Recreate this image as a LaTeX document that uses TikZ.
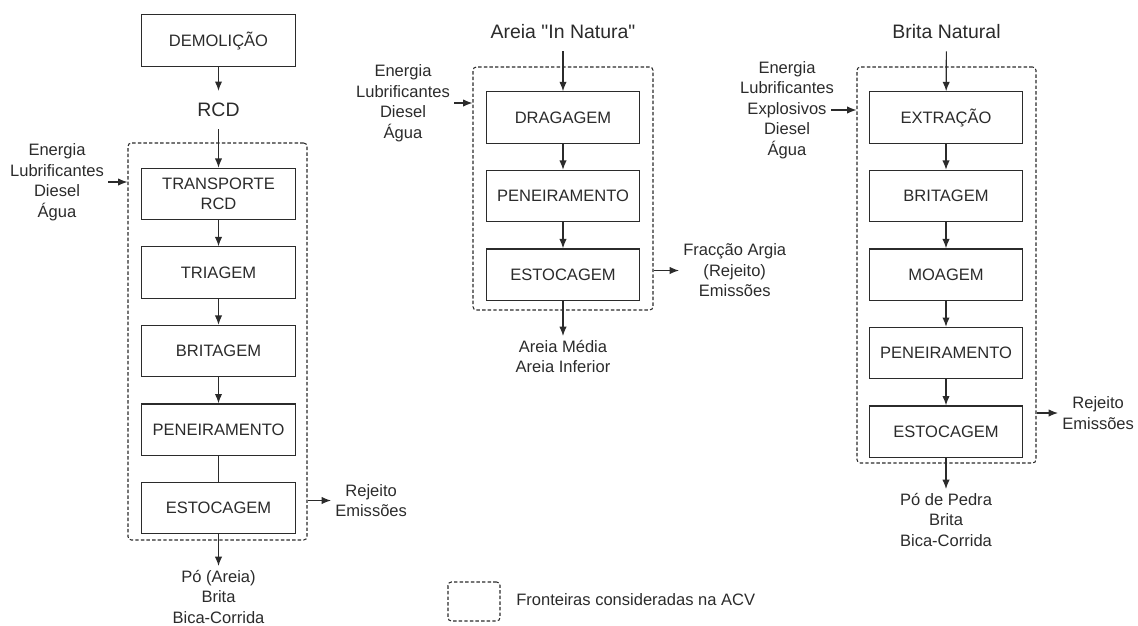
\documentclass[tikz,border=0pt]{standalone}
\usepackage{fontspec}
\setmainfont{Liberation Sans}[Ligatures=TeXOff]
\usetikzlibrary{arrows.meta}
\usetikzlibrary{positioning}
\definecolor{ink}{HTML}{2B2B2B}
\tikzset{
  proc/.style={draw=ink, line width=0.9pt, minimum width=115pt, minimum height=38.5pt,
    inner sep=2pt, align=center, text=ink, font=\fontsize{12.4}{15}\selectfont},
  ttl/.style={inner sep=9pt, text=ink, font=\fontsize{14.6}{17}\selectfont},
  lbl/.style={align=center, inner sep=3pt, text=ink, font=\fontsize{12.4}{15.4}\selectfont},
  frontier/.style={draw=ink, line width=0.8pt, dash pattern=on 2.6pt off 1.6pt, rounded corners=2.5pt},
  flow/.style={draw=ink, line width=0.9pt, -{Latex[length=7pt,width=5.5pt]}}
}

\begin{document}
\begin{tikzpicture}[x=0.75pt,y=-0.75pt]
\useasboundingbox (0,0) rectangle (1138,625);

% RCD column
\node[proc] (dem) at (218.5,40.5) {DEMOLIÇÃO};
\node[ttl] (rcd) at (218.5,110) {RCD};
\node[frontier, minimum width=134.25pt, minimum height=297.75pt] (fr1) at (217.5,341.5) {};
\node[proc] (trp) at (218.5,194) {TRANSPORTE\\RCD};
\node[proc, below=19.5pt of trp] (tri) {TRIAGEM};
\node[proc, below=19.5pt of tri] (bri1) {BRITAGEM};
\node[proc, below=19.5pt of bri1] (pen1) {PENEIRAMENTO};
\node[proc, below=19.5pt of pen1] (est1) {ESTOCAGEM};
\node[lbl, anchor=north] (out1) at (218.5,566) {Pó (Areia)\\Brita\\Bica-Corrida};
\node[lbl] (in1) at (57,182) {Energia\\Lubrificantes\\Diesel\\Água};
\node[lbl, anchor=west] (rj1) at (331,500.5) {Rejeito\\Emissões};

\draw[flow] (dem) -- (rcd);
\draw[flow] (rcd) -- (trp);
\draw[flow] (trp) -- (tri);
\draw[flow] (tri) -- (bri1);
\draw[flow] (bri1) -- (pen1);
\draw[draw=ink, line width=0.9pt] (pen1) -- (est1);
\draw[flow] (est1) -- (out1);
\draw[flow] (in1) -- (in1 -| fr1.west);
\draw[flow] (fr1.east |- rj1) -- (rj1);

% Areia in natura column
\node[ttl] (are) at (563,32) {Areia "In Natura"};
\node[frontier, minimum width=135pt, minimum height=182.25pt] (fr2) at (563,188.5) {};
\node[proc] (drg) at (563,117.5) {DRAGAGEM};
\node[proc, below=19.5pt of drg] (pen2) {PENEIRAMENTO};
\node[proc, below=19.5pt of pen2] (est2) {ESTOCAGEM};
\node[lbl, anchor=north] (out2) at (563,336) {Areia Média\\Areia Inferior};
\node[lbl] (in2) at (403,103) {Energia\\Lubrificantes\\Diesel\\Água};
\node[lbl, anchor=west] (rj2) at (679,270.5) {Fracção Argia\\(Rejeito)\\Emissões};

\draw[flow] (are) -- (drg);
\draw[flow] (drg) -- (pen2);
\draw[flow] (pen2) -- (est2);
\draw[flow] (est2) -- (out2);
\draw[flow] (in2) -- (in2 -| fr2.west);
\draw[flow] (fr2.east |- rj2) -- (rj2);

% Brita natural column
\node[ttl] (bnt) at (946.5,32) {Brita Natural};
\node[frontier, minimum width=134.25pt, minimum height=297pt] (fr3) at (946.5,265) {};
\node[proc] (ext) at (946,117.5) {EXTRAÇÃO};
\node[proc, below=19.5pt of ext] (bri3) {BRITAGEM};
\node[proc, below=19.5pt of bri3] (moa) {MOAGEM};
\node[proc, below=19.5pt of moa] (pen3) {PENEIRAMENTO};
\node[proc, below=19.5pt of pen3] (est3) {ESTOCAGEM};
\node[lbl, anchor=north] (out3) at (946,489) {Pó de Pedra\\Brita\\Bica-Corrida};
\node[lbl] (in3) at (787,110) {Energia\\Lubrificantes\\Explosivos\\Diesel\\Água};
\node[lbl, anchor=west] (rj3) at (1058,413) {Rejeito\\Emissões};

\draw[flow] (bnt) -- (ext);
\draw[flow] (ext) -- (bri3);
\draw[flow] (bri3) -- (moa);
\draw[flow] (moa) -- (pen3);
\draw[flow] (pen3) -- (est3);
\draw[flow] (est3) -- (out3);
\draw[flow] ([xshift=-5pt]in3.east) -- (in3 -| fr3.west);
\draw[flow] (fr3.east |- rj3) -- (rj3);

% legend
\node[frontier, minimum width=39pt, minimum height=29.25pt] (leg) at (474,601.5) {};
\node[lbl, anchor=west] (legtxt) at (512,600) {Fronteiras consideradas na ACV};

\end{tikzpicture}
\end{document}
